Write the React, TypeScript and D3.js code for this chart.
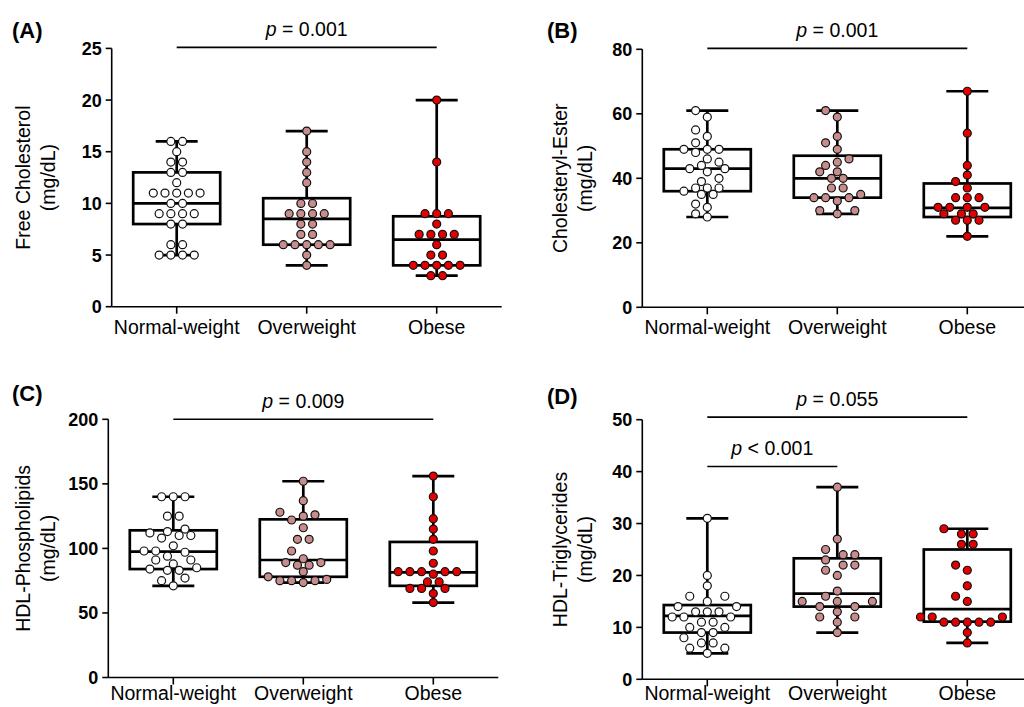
import * as d3 from 'd3';

const categories = ['Normal-weight', 'Overweight', 'Obese'];
const groupFills = ['#ffffff', '#c78c8c', '#e30000'];

// (A) Free Cholesterol
const fcNormal = [16, 16, 15, 14, 14, 13, 13, 12, 11, 11, 11, 11, 11, 10, 10, 9, 9, 9, 9, 8, 8, 6, 6, 5, 5, 5, 5];
const fcOver = [17, 15, 14, 13, 12, 10, 10, 9, 9, 9, 9, 8, 8, 7, 7, 6, 6, 6, 6, 6, 5, 4];
const fcObese = [20, 14, 9, 9, 9, 8, 7, 7, 7, 7, 6, 5, 5, 4, 4, 4, 4, 4, 3, 3];
// box stats: min, q1, median, q3, max
const fcBox = [[5, 8, 10, 13, 16], [4, 6, 8.5, 10.5, 17], [3, 4, 6.5, 8.75, 20]];
const fcTicks = [0, 5, 10, 15, 20, 25];

// (B) Cholesteryl-Ester
const ceNormal = [61, 59, 55, 53, 51, 49, 49, 49, 48, 46, 45, 44, 43, 43, 42, 40, 39, 37, 37, 37, 36, 35, 35, 32, 31, 29, 28];
const ceOver = [61, 59, 53, 51, 49, 46, 45, 44, 42, 42, 40, 40, 37, 37, 35, 34, 34, 34, 33, 30, 30, 29];
const ceObese = [67, 54, 44, 41, 39, 37, 34, 34, 34, 31, 31, 31, 31, 29, 29, 29, 27, 27, 27, 22];
const ceBox = [[28, 36, 43, 49, 61], [29, 34, 40, 47, 61], [22, 28, 30.8, 38.4, 67]];
const ceTicks = [0, 20, 40, 60, 80];

// (C) HDL-Phospholipids
const plNormal = [140, 140, 140, 125, 125, 115, 113, 112, 110, 110, 108, 102, 98, 98, 97, 94, 91, 91, 88, 85, 84, 83, 83, 77, 75, 71];
const plOver = [152, 137, 128, 126, 125, 122, 116, 107, 107, 98, 92, 89, 89, 87, 87, 82, 78, 76, 75, 75, 75, 73.5];
const plObese = [156, 140, 123, 115, 107, 98, 88.5, 82, 82, 82, 82, 82, 80, 74, 74, 69, 69, 69, 65, 58];
const plBox = [[71, 84, 97.5, 114, 140], [73.5, 78, 91, 122.5, 152], [58, 71, 81.5, 105, 156]];
const plTicks = [0, 50, 100, 150, 200];

// (D) HDL-Triglycerides
const tgNormal = [31, 20, 18, 16, 16, 15, 14, 14, 13, 13, 13, 12, 12, 12, 11, 11, 10, 10, 9, 9, 8, 7, 7, 6, 6, 5];
const tgOver = [37, 27, 25, 24, 24, 23, 22, 22, 21, 20, 17, 16, 15, 15, 15, 14, 14, 13, 12, 12, 11, 9];
const tgObese = [29, 28, 28, 26, 26, 22, 21, 18, 16, 15, 12, 12, 12, 11, 11, 11, 11, 11, 9, 7];
const tgBox = [[5, 9, 12.2, 14.3, 31], [9, 14, 16.5, 23.3, 37], [7, 11.1, 13.5, 25, 29]];
const tgTicks = [0, 10, 20, 30, 40, 50];

const FONT = '"Liberation Sans", Arial, Helvetica, sans-serif';

type Bracket = { from: number; to: number; at: number; op: string };

type Panel = {
  label: string;
  title: string;
  groups: number[][];
  boxes: number[][];
  ticks: number[];
  brackets: Bracket[];
  x0: number;
  yTop: number;
  yBot: number;
  labelX: number;
  labelY: number;
  titleX: number;
  catDy: number;
};

const panels: Panel[] = [
  {
    label: '(A)', title: 'Free Cholesterol', groups: [fcNormal, fcOver, fcObese], boxes: fcBox, ticks: fcTicks,
    brackets: [{ from: 0, to: 2, at: 25.1, op: ' = 0.001' }],
    x0: 111.7, yTop: 48.4, yBot: 306.7, labelX: 12, labelY: 38, titleX: 30, catDy: 27,
  },
  {
    label: '(B)', title: 'Cholesteryl-Ester', groups: [ceNormal, ceOver, ceObese], boxes: ceBox, ticks: ceTicks,
    brackets: [{ from: 0, to: 2, at: 80.3, op: ' = 0.001' }],
    x0: 642.3, yTop: 49.3, yBot: 307.3, labelX: 547, labelY: 38, titleX: 567, catDy: 27,
  },
  {
    label: '(C)', title: 'HDL-Phospholipids', groups: [plNormal, plOver, plObese], boxes: plBox, ticks: plTicks,
    brackets: [{ from: 0, to: 2, at: 200, op: ' = 0.009' }],
    x0: 108.3, yTop: 419.3, yBot: 677.5, labelX: 12, labelY: 401, titleX: 30, catDy: 22,
  },
  {
    label: '(D)', title: 'HDL-Triglycerides', groups: [tgNormal, tgOver, tgObese], boxes: tgBox, ticks: tgTicks,
    brackets: [{ from: 0, to: 2, at: 50.5, op: ' = 0.055' }, { from: 0, to: 1, at: 41, op: ' < 0.001' }],
    x0: 642.3, yTop: 419.7, yBot: 679.3, labelX: 547, labelY: 404, titleX: 567, catDy: 21,
  },
];

const STEP = 11.7; // horizontal dot spacing within one row
const GAP = 8.5; // minimum distance between dots of different rows

// simple grid beeswarm, rows of equal values are centred
function swarm(vals: number[], y: (v: number) => number) {
  const placed: { dx: number; cy: number }[] = [];
  const half: number[] = [0];
  for (let i = 1; i <= 24; i++) half.push(-i / 2, i / 2);
  const groups = d3.groups([...vals].sort(d3.ascending), (v) => v);
  for (const [v, arr] of groups) {
    const odd = arr.length % 2 === 1;
    const order = half
      .map((h, i) => {
        const isInt = Math.abs(h) % 1 === 0;
        return { h, s: Math.abs(h) + (isInt === odd ? 0 : 0.6) + i * 1e-4 };
      })
      .sort((a, b) => a.s - b.s)
      .map((d) => d.h);
    const cy = y(v);
    for (let k = 0; k < arr.length; k++) {
      for (const h of order) {
        const dx = h * STEP;
        const ok = placed.every((p) => {
          const lim = Math.abs(p.cy - cy) < 0.01 ? STEP - 0.01 : GAP;
          return Math.hypot(p.dx - dx, p.cy - cy) >= lim;
        });
        if (ok) {
          placed.push({ dx, cy });
          break;
        }
      }
    }
  }
  return placed;
}

function BoxPanel({ p }: { p: Panel }) {
  const x = d3.scalePoint<string>().domain(categories).range([p.x0, p.x0 + 390]).padding(0.5);
  const y = d3.scaleLinear().domain([0, p.ticks[p.ticks.length - 1]]).range([p.yBot, p.yTop]);
  const midY = (p.yTop + p.yBot) / 2;
  const boxHalf = 43.5;
  const capHalf = 21;

  return (
    <g>
      <text x={p.labelX} y={p.labelY} fontFamily={FONT} fontWeight="bold" fontSize={22}>{p.label}</text>

      <g transform={`translate(${p.titleX},${midY}) rotate(-90)`} fontFamily={FONT} fontSize={19.5} textAnchor="middle">
        <text x={0} y={0}>{p.title}</text>
        <text x={0} y={25}>(mg/dL)</text>
      </g>

      {/* axes */}
      <line x1={p.x0} x2={p.x0} y1={p.yTop} y2={p.yBot} stroke="#000" strokeWidth={1.6} />
      <line x1={p.x0} x2={p.x0 + 390} y1={p.yBot} y2={p.yBot} stroke="#000" strokeWidth={1.6} />
      {p.ticks.map((t) => (
        <g key={t}>
          <line x1={p.x0 - 6} x2={p.x0} y1={y(t)} y2={y(t)} stroke="#000" strokeWidth={1.6} />
          <text x={p.x0 - 10} y={y(t)} dy="0.36em" textAnchor="end" fontFamily={FONT} fontWeight="bold" fontSize={18}>{t}</text>
        </g>
      ))}
      {categories.map((c) => (
        <g key={c}>
          <line x1={x(c)} x2={x(c)} y1={p.yBot} y2={p.yBot + 7} stroke="#000" strokeWidth={1.6} />
          <text x={x(c)} y={p.yBot + p.catDy} textAnchor="middle" fontFamily={FONT} fontSize={19.5}>{c}</text>
        </g>
      ))}

      {/* brackets */}
      {p.brackets.map((b, i) => {
        const xa = x(categories[b.from])!;
        const xb = x(categories[b.to])!;
        const yy = y(b.at);
        return (
          <g key={i}>
            <line x1={xa} x2={xb} y1={yy} y2={yy} stroke="#000" strokeWidth={1.6} />
            <text x={(xa + xb) / 2} y={yy - 11} textAnchor="middle" fontFamily={FONT} fontSize={19.5}>
              <tspan fontStyle="italic">p</tspan>{b.op}
            </text>
          </g>
        );
      })}

      {/* boxes */}
      {p.boxes.map((bx, i) => {
        const cx = x(categories[i])!;
        const [mn, q1, md, q3, mx] = bx;
        return (
          <g key={i} stroke="#000" strokeWidth={2.7} fill="none">
            <line x1={cx} x2={cx} y1={y(mx)} y2={y(q3)} />
            <line x1={cx} x2={cx} y1={y(q1)} y2={y(mn)} />
            <line x1={cx - capHalf} x2={cx + capHalf} y1={y(mx)} y2={y(mx)} />
            <line x1={cx - capHalf} x2={cx + capHalf} y1={y(mn)} y2={y(mn)} />
            <rect x={cx - boxHalf} y={y(q3)} width={boxHalf * 2} height={y(q1) - y(q3)} />
            <line x1={cx - boxHalf} x2={cx + boxHalf} y1={y(md)} y2={y(md)} />
          </g>
        );
      })}

      {/* dots */}
      {p.groups.map((vals, i) => {
        const cx = x(categories[i])!;
        return swarm(vals, y).map((d, k) => (
          <circle key={`${i}-${k}`} cx={cx + d.dx} cy={d.cy} r={4} fill={groupFills[i]} stroke="#111" strokeWidth={1.2} />
        ));
      })}
    </g>
  );
}

export default function App() {
  return (
    <svg width={1024} height={707} style={{ position: 'absolute', left: 0, top: 0, background: '#fff' }}>
      <rect width={1024} height={707} fill="#fff" />
      {panels.map((p) => (
        <BoxPanel key={p.label} p={p} />
      ))}
    </svg>
  );
}
